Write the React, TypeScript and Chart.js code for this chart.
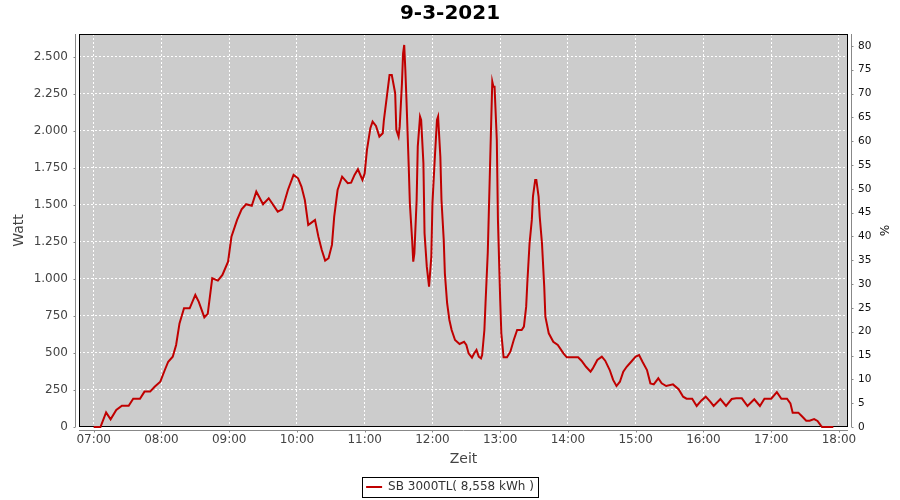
import React, { useEffect, useRef } from "react";
import { Chart, registerables } from "chart.js";

Chart.register(...registerables);

const TITLE = "9-3-2021";
const SERIES_LABEL = "SB 3000TL( 8,558 kWh )";
const X_TITLE = "Zeit";
const Y_TITLE = "Watt";
const Y2_TITLE = "%";

const TIMES = [
  "07:00","07:06","07:11","07:15","07:20","07:25","07:31","07:35","07:41","07:45",
  "07:50","07:54","07:59","08:03","08:06","08:10","08:13","08:16","08:20","08:25",
  "08:30","08:33","08:38","08:41","08:45","08:50","08:54","08:59","09:02","09:07",
  "09:11","09:15","09:20","09:24","09:30","09:35","09:43","09:47","09:52","09:57",
  "10:01","10:04","10:07","10:10","10:12","10:16","10:19","10:22","10:25","10:28",
  "10:31","10:33","10:36","10:40","10:45","10:48","10:51","10:54","10:58","11:00",
  "11:02","11:05","11:07","11:10","11:13","11:16","11:17","11:20","11:22","11:24",
  "11:27","11:28","11:30","11:31","11:33","11:34","11:35","11:36","11:37","11:39",
  "11:40","11:42","11:43","11:44","11:46","11:47","11:49","11:50","11:52","11:53",
  "11:55","11:57","11:59","12:00","12:02","12:04","12:05","12:07","12:08","12:10",
  "12:11","12:13","12:15","12:17","12:20","12:24","12:28","12:30","12:32","12:35",
  "12:37","12:39","12:41","12:43","12:44","12:46","12:47","12:49","12:51","12:52",
  "12:53","12:54","12:55","12:57","12:58","13:00","13:01","13:03","13:06","13:09",
  "13:12","13:15","13:19","13:21","13:23","13:24","13:26","13:28","13:29","13:31",
  "13:32","13:34","13:35","13:37","13:39","13:40","13:43","13:47","13:51","13:56",
  "13:59","14:05","14:09","14:12","14:16","14:20","14:22","14:26","14:30","14:33",
  "14:37","14:40","14:43","14:46","14:49","14:52","14:56","15:00","15:03","15:06",
  "15:10","15:13","15:16","15:20","15:23","15:27","15:33","15:38","15:42","15:45",
  "15:50","15:54","15:58","16:02","16:06","16:09","16:15","16:20","16:25","16:29",
  "16:34","16:39","16:45","16:50","16:54","17:00","17:05","17:09","17:14","17:17",
  "17:19","17:24","17:27","17:31","17:34","17:38","17:41","17:44","17:45","17:55"
];

const WATT = [
  0,0,99,52,115,144,144,191,191,239,
  239,272,306,385,441,475,554,700,802,802,
  892,847,741,764,1005,989,1027,1117,1286,1399,
  1471,1505,1495,1590,1505,1545,1455,1470,1601,1703,
  1680,1624,1534,1365,1376,1399,1286,1196,1124,1140,
  1230,1421,1601,1691,1647,1651,1703,1741,1669,1714,
  1872,2018,2063,2034,1962,1984,2074,2255,2378,2378,
  2255,2007,1962,2029,2322,2525,2581,2412,2209,1759,
  1511,1264,1117,1173,1534,1894,2097,2074,1782,1309,
  1083,948,1151,1511,1804,2074,2097,1826,1534,1264,
  1038,836,723,655,588,561,576,554,498,468,
  498,520,475,464,486,655,836,1180,1759,2052,
  2333,2299,2299,1939,1399,858,633,471,471,509,
  588,655,655,678,813,971,1241,1399,1556,1669,
  1669,1556,1421,1241,948,745,633,576,554,498,
  471,471,471,448,407,374,396,453,475,448,
  385,318,277,306,374,407,441,475,486,441,
  385,295,288,329,295,277,288,255,205,191,
  191,142,178,205,171,142,189,142,189,194,
  194,142,187,142,191,191,236,191,191,160,
  97,97,74,43,43,54,41,9,0,0
];

const X_MIN = "06:47";
const X_MAX = "18:08";
const X_TICK_STEP_MIN = 60;
const Y_MAX = 2655;
const Y_STEP = 250;
const Y2_MAX = 82.5;
const Y2_STEP = 5;

const toMin = (s: string) => {
  const [h, m] = s.split(":").map(Number);
  return h * 60 + m;
};
const fmtTime = (v: number) => {
  const h = Math.floor(v / 60);
  const m = Math.round(v - h * 60);
  return String(h).padStart(2, "0") + ":" + String(m).padStart(2, "0");
};
const fmtDe = (v: number) =>
  Math.round(v).toString().replace(/\B(?=(\d{3})+(?!\d))/g, ".");

const FONT = "'DejaVu Sans', sans-serif";

const decor = {
  id: "decor",
  beforeDraw(chart: any) {
    const { ctx, chartArea: a } = chart;
    ctx.save();
    ctx.fillStyle = "#CCCCCC";
    ctx.fillRect(a.left, a.top, a.right - a.left, a.bottom - a.top);
    ctx.restore();
  },
  beforeDatasetsDraw(chart: any) {
    const { ctx, chartArea: a } = chart;
    ctx.save();
    ctx.strokeStyle = "#000";
    ctx.lineWidth = 1;
    ctx.strokeRect(
      Math.round(a.left) + 0.5,
      Math.round(a.top) + 0.5,
      Math.round(a.right - a.left) - 1,
      Math.round(a.bottom - a.top) - 1
    );
    ctx.restore();
  },
  afterDraw(chart: any) {
    const { ctx, chartArea: a, scales } = chart;
    ctx.save();
    ctx.lineWidth = 1;
    ctx.strokeStyle = "#888888";
    const seg = (x1: number, y1: number, x2: number, y2: number) => {
      ctx.beginPath();
      ctx.moveTo(x1, y1);
      ctx.lineTo(x2, y2);
      ctx.stroke();
    };
    const ay = Math.round(a.bottom) + 3.5;
    seg(a.left, ay, a.right, ay);
    scales.x.ticks.forEach((t: any) => {
      const px = Math.round(scales.x.getPixelForValue(t.value)) + 0.5;
      seg(px, ay, px, ay + 2);
    });
    const lx = Math.round(a.left) - 3.5;
    seg(lx, a.top, lx, a.bottom);
    scales.y.ticks.forEach((t: any) => {
      const py = Math.round(scales.y.getPixelForValue(t.value)) + 0.5;
      seg(lx - 2, py, lx, py);
    });
    const rx = Math.round(a.right) + 3.5;
    seg(rx, a.top, rx, a.bottom);
    scales.y1.ticks.forEach((t: any) => {
      const py = Math.round(scales.y1.getPixelForValue(t.value)) + 0.5;
      seg(rx, py, rx + 2, py);
    });
    const hb = chart.legend && chart.legend.legendHitBoxes && chart.legend.legendHitBoxes[0];
    if (hb) {
      ctx.strokeStyle = "#000";
      ctx.strokeRect(
        Math.round(hb.left - 4) + 0.5,
        Math.round(hb.top - 4) + 0.5,
        Math.round(hb.width + 8),
        Math.round(hb.height + 8)
      );
    }
    ctx.restore();
  },
};

export default function App() {
  const ref = useRef<HTMLCanvasElement | null>(null);

  useEffect(() => {
    if (!ref.current) return;
    const points = TIMES.map((t, i) => ({ x: toMin(t), y: WATT[i] }));
    const chart = new Chart(ref.current, {
      type: "line",
      data: {
        datasets: [
          {
            label: SERIES_LABEL,
            data: points,
            borderColor: "#C00000",
            backgroundColor: "#C00000",
            borderWidth: 2,
            pointRadius: 0,
            tension: 0,
            fill: false,
            clip: false,
            xAxisID: "x",
            yAxisID: "y",
          },
        ],
      },
      options: {
        responsive: false,
        animation: false,
        events: [],
        layout: { padding: { left: 0, right: 0, top: 0, bottom: -3 } },
        plugins: {
          title: {
            display: true,
            text: TITLE,
            color: "#000",
            font: { family: FONT, size: 20, weight: "bold", lineHeight: 1.2 },
            padding: { top: 2, bottom: 8 },
          },
          legend: {
            display: true,
            position: "bottom",
            labels: {
              usePointStyle: true,
              pointStyle: "line",
              pointStyleWidth: 16,
              color: "#333",
              padding: 10,
              font: { family: FONT, size: 12 },
            },
          },
          tooltip: { enabled: false },
        },
        scales: {
          x: {
            type: "linear",
            min: toMin(X_MIN),
            max: toMin(X_MAX),
            afterFit: (s: any) => {
              s.height = 44;
            },
            ticks: {
              stepSize: X_TICK_STEP_MIN,
              includeBounds: false,
              autoSkip: false,
              maxRotation: 0,
              padding: 6,
              color: "#444",
              font: { family: FONT, size: 12 },
              callback: (v: any) => fmtTime(Number(v)),
            },
            grid: { color: "#FFFFFF", lineWidth: 1, drawTicks: false },
            border: { display: false, dash: [2, 2] },
            title: {
              display: true,
              text: X_TITLE,
              color: "#444",
              font: { family: FONT, size: 14 },
              padding: { top: 0, bottom: 3 },
            },
          },
          y: {
            type: "linear",
            position: "left",
            min: 0,
            max: Y_MAX,
            afterFit: (s: any) => {
              s.width = 79;
            },
            ticks: {
              stepSize: Y_STEP,
              includeBounds: false,
              padding: 11,
              color: "#444",
              font: { family: FONT, size: 12 },
              callback: (v: any) => fmtDe(Number(v)),
            },
            grid: { color: "#FFFFFF", lineWidth: 1, drawTicks: false },
            border: { display: false, dash: [2, 2] },
            title: {
              display: true,
              text: Y_TITLE,
              color: "#444",
              font: { family: FONT, size: 14 },
              padding: { top: 11, bottom: 0 },
            },
          },
          y1: {
            type: "linear",
            position: "right",
            display: true,
            min: 0,
            max: Y2_MAX,
            afterFit: (s: any) => {
              s.width = 52;
            },
            ticks: {
              stepSize: Y2_STEP,
              includeBounds: false,
              padding: 10,
              color: "#111",
              font: { family: FONT, size: 10.5 },
            },
            grid: { display: false, drawOnChartArea: false, drawTicks: false },
            border: { display: false },
            title: {
              display: true,
              text: Y2_TITLE,
              color: "#111",
              font: { family: FONT, size: 12 },
              padding: { top: 10, bottom: 0 },
            },
          },
        },
      },
      plugins: [decor],
    } as any);
    return () => chart.destroy();
  }, []);

  return (
    <div style={{ position: "absolute", left: 0, top: 0, width: 900, height: 500 }}>
      <canvas ref={ref} width={900} height={500} style={{ display: "block" }} />
    </div>
  );
}
